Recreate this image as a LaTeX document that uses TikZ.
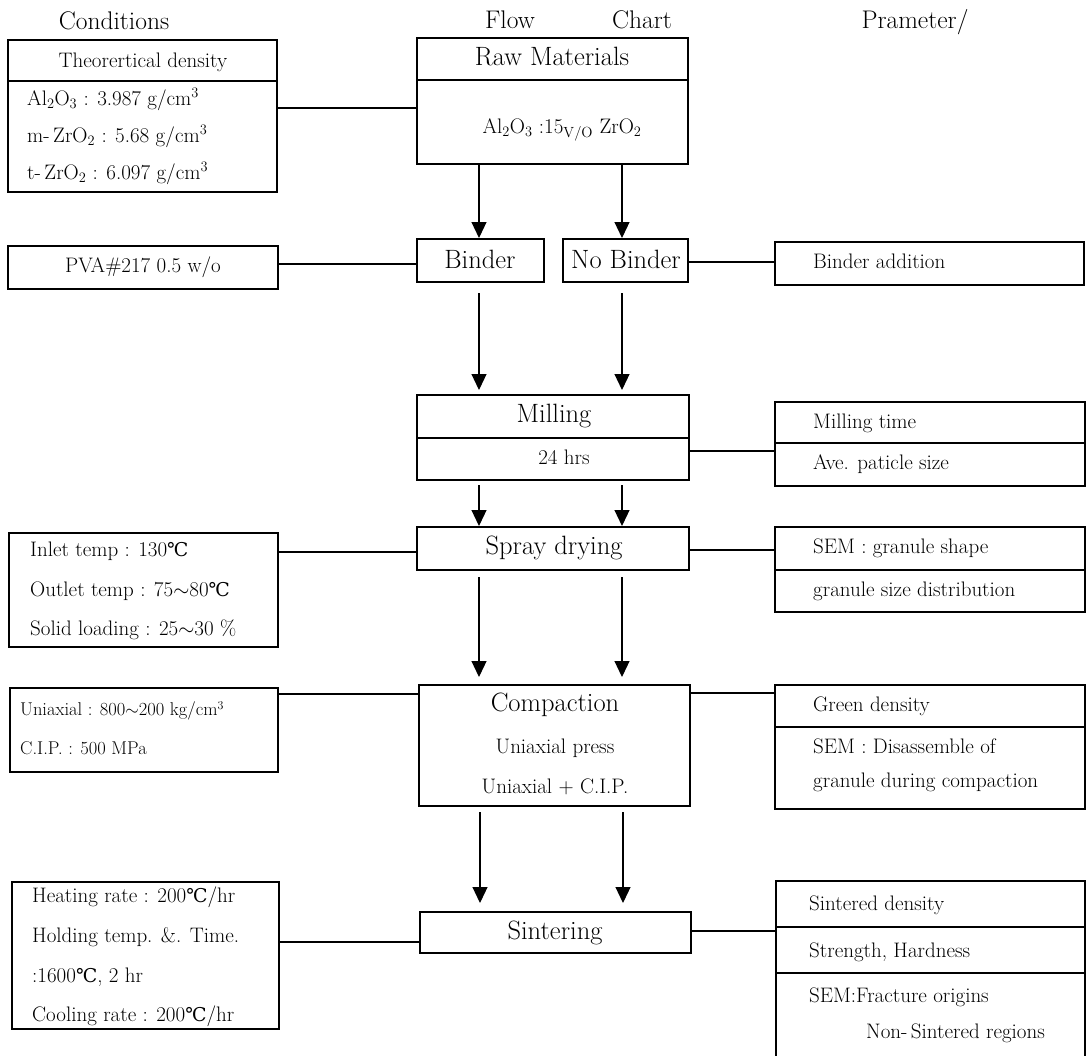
\documentclass[tikz,border=0pt]{standalone}
\usepackage{fontspec}
\newfontfamily\symfont{DejaVu Serif}
\usetikzlibrary{arrows.meta}
\newcommand\dgc{{\symfont\fontsize{19}{22}\selectfont ℃}}
\begin{document}
\begin{tikzpicture}[x=1pt,y=-1pt,
  box/.style={draw, line width=1.1pt, anchor=north west, inner sep=0pt, outer sep=0pt},
  sm/.style={font=\fontsize{21}{25}\selectfont, inner sep=0pt, text height=15pt, text depth=4.5pt},
  cond/.style={font=\fontsize{18.5}{22}\selectfont, inner sep=0pt, text height=13pt, text depth=4pt},
  lg/.style={font=\fontsize{26.5}{30}\selectfont, inner sep=0pt, text height=19pt, text depth=5.5pt},
  hd/.style={font=\fontsize{25.5}{30}\selectfont, inner sep=0pt, text height=18pt, text depth=5pt},
  conn/.style={line width=1.3pt},
  arr/.style={line width=1.2pt, -{Triangle[length=16pt, width=15pt]}},
  div/.style={line width=1.1pt}]
\useasboundingbox (0,0) rectangle (1089,1055);

% headers
\node[hd] (hcond) at (114,23) {Conditions};
\node[hd] (hflow) at (510,22) {Flow};
\node[hd] (hchart) at (642,22) {Chart};
\node[hd] (hpar) at (915,22) {Prameter/};

% boxes
\node[box, minimum width=269pt, minimum height=152pt] (theo) at (8,40) {};
\node[box, minimum width=271pt, minimum height=126pt] (raw) at (417,38) {};
\node[box, minimum width=270pt, minimum height=43pt] (pva) at (8,246) {};
\node[box, minimum width=127pt, minimum height=43pt] (binder) at (417,239) {};
\node[box, minimum width=125pt, minimum height=43pt] (nobinder) at (563,239) {};
\node[box, minimum width=309pt, minimum height=43pt] (badd) at (775,242) {};
\node[box, minimum width=272pt, minimum height=85pt] (milling) at (417,395) {};
\node[box, minimum width=310pt, minimum height=84pt] (milltime) at (775,402) {};
\node[box, minimum width=269pt, minimum height=114pt] (inlet) at (9,533) {};
\node[box, minimum width=272pt, minimum height=43pt] (spray) at (417,527) {};
\node[box, minimum width=310pt, minimum height=85pt] (semone) at (775,527) {};
\node[box, minimum width=268pt, minimum height=84pt] (uniax) at (10,688) {};
\node[box, minimum width=271pt, minimum height=121pt] (compaction) at (419,685) {};
\node[box, minimum width=310pt, minimum height=124pt] (green) at (775,685) {};
\node[box, minimum width=267pt, minimum height=147pt] (heating) at (12,882) {};
\node[box, minimum width=271pt, minimum height=41pt] (sintering) at (420,912) {};
\node[box, minimum width=309pt, minimum height=185pt] (sintbox) at (776,881) {};

% dividers
\draw[div] (theo.west |- 0,81) -- (theo.east |- 0,81);
\draw[div] (raw.west |- 0,80) -- (raw.east |- 0,80);
\draw[div] (milling.west |- 0,438) -- (milling.east |- 0,438);
\draw[div] (milltime.west |- 0,443) -- (milltime.east |- 0,443);
\draw[div] (semone.west |- 0,570) -- (semone.east |- 0,570);
\draw[div] (green.west |- 0,727) -- (green.east |- 0,727);
\draw[div] (sintbox.west |- 0,927) -- (sintbox.east |- 0,927);
\draw[div] (sintbox.west |- 0,973) -- (sintbox.east |- 0,973);

% texts
\node[sm] (t1) at (143,62) {Theorertical density};
\node[sm, anchor=west] (t2) at (27,100) {Al$_2$O$_3$ : 3.987 g/cm$^3$};
\node[sm, anchor=west] (t3) at (27,137) {m-\,ZrO$_2$ : 5.68 g/cm$^3$};
\node[sm, anchor=west] (t4) at (27,174) {t-\,ZrO$_2$ : 6.097 g/cm$^3$};
\node[lg] (r1) at (552,59) {Raw Materials};
\node[sm] (r2) at (562,128) {Al$_2$O$_3$ :15\textsubscript{V/O} ZrO$_2$};
\node[sm] (p1) at (143,267) {PVA\#217 0.5 w/o};
\node[lg] (b1) at (480,262) {Binder};
\node[lg] (b2) at (626,262) {No Binder};
\node[sm, anchor=west] (ba) at (813,263) {Binder addition};
\node[lg] (m1) at (554,416) {Milling};
\node[sm] (m2) at (564,459) {24 hrs};
\node[sm, anchor=west] (mt1) at (813,423) {Milling time};
\node[sm, anchor=west] (mt2) at (813,464) {Ave. paticle size};
\node[sm, anchor=west] (i1) at (30,551) {Inlet temp : 130\dgc};
\node[sm, anchor=west] (i2) at (30,591) {Outlet temp : 75$\sim$80\dgc};
\node[sm, anchor=west] (i3) at (30,630) {Solid loading : 25$\sim$30 \%};
\node[lg] (s1) at (554,548) {Spray drying};
\node[sm, anchor=west] (sg1) at (813,548) {SEM : granule shape};
\node[sm, anchor=west] (sg2) at (813,591) {granule size distribution};
\node[cond, anchor=west] (u1) at (20,711) {Uniaxial : 800$\sim$200 kg/cm$^3$};
\node[cond, anchor=west] (u2) at (20,750) {C.I.P. : 500 MPa};
\node[lg] (c1) at (555,705) {Compaction};
\node[sm] (c2) at (555,748) {Uniaxial press};
\node[sm] (c3) at (555,788) {Uniaxial + C.I.P.};
\node[sm, anchor=west] (g1) at (813,706) {Green density};
\node[sm, anchor=west] (g2) at (813,748) {SEM : Disassemble of};
\node[sm, anchor=west] (g3) at (813,782) {granule during compaction};
\node[sm, anchor=west] (h1) at (32,897) {Heating rate : 200\dgc/hr};
\node[sm, anchor=west] (h2) at (32,937) {Holding temp. \&. Time.};
\node[sm, anchor=west] (h3) at (32,977) {:1600\dgc, 2 hr};
\node[sm, anchor=west] (h4) at (32,1016) {Cooling rate : 200\dgc/hr};
\node[lg] (si1) at (555,933) {Sintering};
\node[sm, anchor=west] (sb1) at (809,905) {Sintered density};
\node[sm, anchor=west] (sb2) at (809,952) {Strength, Hardness};
\node[sm, anchor=west] (sb3) at (809,997) {SEM:Fracture origins};
\node[sm, anchor=west] (sb4) at (866,1033) {Non-\,Sintered regions};

% horizontal connectors
\draw[conn] (theo.east |- 0,108) -- (raw.west |- 0,108);
\draw[conn] (pva.east |- 0,264) -- (binder.west |- 0,264);
\draw[conn] (nobinder.east |- 0,262) -- (badd.west |- 0,262);
\draw[conn] (milling.east |- 0,451) -- (milltime.west |- 0,451);
\draw[conn] (inlet.east |- 0,552) -- (spray.west |- 0,552);
\draw[conn] (spray.east |- 0,550) -- (semone.west |- 0,550);
\draw[conn] (uniax.east |- 0,694) -- (compaction.west |- 0,694);
\draw[conn] (compaction.east |- 0,693) -- (green.west |- 0,693);
\draw[conn] (heating.east |- 0,942) -- (sintering.west |- 0,942);
\draw[conn] (sintering.east |- 0,931) -- (sintbox.west |- 0,931);

% arrows
\draw[arr, shorten >=1pt] (raw.south -| 479,0) -- (binder.north -| 479,0);
\draw[arr, shorten >=1pt] (raw.south -| 622,0) -- (nobinder.north -| 622,0);
\draw[arr, shorten <=11pt, shorten >=5pt] (binder.south -| 479,0) -- (milling.north -| 479,0);
\draw[arr, shorten <=11pt, shorten >=5pt] (nobinder.south -| 622,0) -- (milling.north -| 622,0);
\draw[arr, shorten <=5pt, shorten >=1pt] (milling.south -| 479,0) -- (spray.north -| 479,0);
\draw[arr, shorten <=5pt, shorten >=1pt] (milling.south -| 622,0) -- (spray.north -| 622,0);
\draw[arr, shorten <=7pt, shorten >=8pt] (spray.south -| 479,0) -- (compaction.north -| 479,0);
\draw[arr, shorten <=7pt, shorten >=8pt] (spray.south -| 622,0) -- (compaction.north -| 622,0);
\draw[arr, shorten <=6pt, shorten >=9pt] (compaction.south -| 480,0) -- (sintering.north -| 480,0);
\draw[arr, shorten <=6pt, shorten >=9pt] (compaction.south -| 623,0) -- (sintering.north -| 623,0);
\end{tikzpicture}
\end{document}
